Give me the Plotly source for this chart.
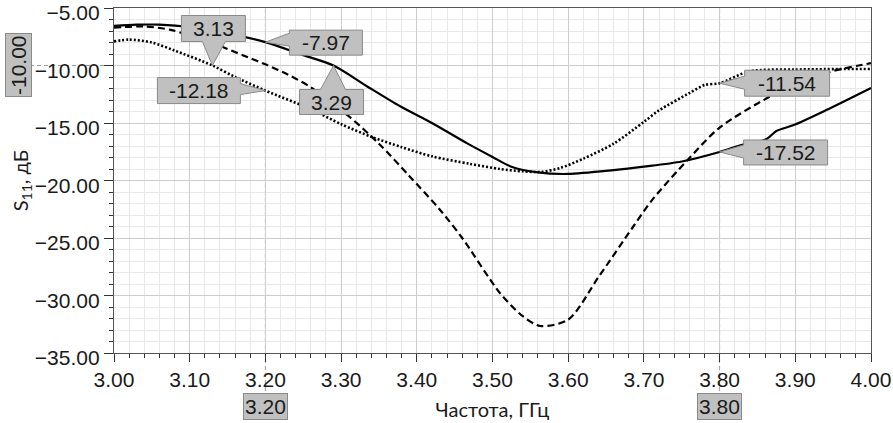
import plotly.graph_objects as go

# ---- data ----
freq_solid = [3.00, 3.03, 3.06, 3.10, 3.15, 3.20, 3.25, 3.29, 3.334, 3.378, 3.42, 3.466,
              3.50, 3.525, 3.56, 3.60, 3.66, 3.70, 3.75, 3.80, 3.83, 3.862, 3.875, 3.897, 3.94, 4.00]
s11_solid = [-6.55, -6.45, -6.45, -6.65, -7.2, -7.97, -9.1, -10.0, -11.8, -13.55, -15.0, -16.75,
             -17.95, -18.8, -19.3, -19.43, -19.1, -18.8, -18.35, -17.52, -16.9, -16.4, -15.7, -15.2, -13.9, -11.95]

freq_dash = [3.00, 3.04, 3.075, 3.10, 3.14, 3.17, 3.20, 3.23, 3.26, 3.31, 3.35, 3.39, 3.43, 3.46,
             3.51, 3.54, 3.563, 3.60, 3.64, 3.686, 3.712, 3.758, 3.80, 3.867, 3.94, 4.00]
s11_dash = [-6.7, -6.6, -6.9, -7.4, -8.3, -9.1, -9.9, -10.8, -11.9, -14.4, -16.8, -19.6, -22.5, -25.0,
            -29.8, -31.8, -32.65, -32.1, -28.4, -24.0, -21.6, -18.2, -15.4, -12.7, -10.66, -9.8]

freq_dot = [3.00, 3.02, 3.05, 3.08, 3.13, 3.16, 3.20, 3.26, 3.30, 3.34, 3.38, 3.42, 3.47, 3.51,
            3.54, 3.565, 3.59, 3.62, 3.66, 3.70, 3.72, 3.76, 3.78, 3.80, 3.84, 3.90, 4.00]
s11_dot = [-7.9, -7.75, -8.0, -8.7, -10.0, -11.0, -12.18, -13.8, -15.1, -16.2, -17.1, -17.9, -18.55, -19.0,
           -19.2, -19.25, -18.9, -18.1, -16.8, -14.9, -13.9, -12.4, -11.7, -11.54, -10.5, -10.35, -10.3]

x_ticks = [3.00, 3.10, 3.20, 3.30, 3.40, 3.50, 3.60, 3.70, 3.80, 3.90, 4.00]
y_ticks = [-35.0, -30.0, -25.0, -20.0, -15.0, -10.0, -5.0]

marker_freqs = [3.20, 3.80]
marker_level = -10.0

callout_x = [3.13, 3.20, 3.20, 3.29, 3.80, 3.80]
callout_y = [-10.0, -7.97, -12.18, -10.0, -11.54, -17.52]
callout_text = ["3.13", "-7.97", "-12.18", "3.29", "-11.54", "-17.52"]

# ---- styling ----
TICK_FONT = dict(family="Liberation Sans, Arial, sans-serif", size=21, color="#1a1a1a")
TITLE_FONT = dict(family="Lato, Carlito, sans-serif", size=20, color="#1a1a1a")
BOX_FILL = "#c0c0c0"
BOX_LINE = "#8a8a8a"
MARK_LINE = "#9a9a9a"

# callout geometry in pixels relative to the pointed-at data point (y up)
callout_geom = [
    dict(x0=-31, x1=33, yb=24, yt=50, side="bottom", a=-10, b=13),
    dict(x0=24, x1=97, yb=-13, yt=12, side="left", a=9, b=-4),
    dict(x0=-108, x1=-25, yb=-13, yt=13, side="right", a=7, b=-4),
    dict(x0=-34, x1=30, yb=-49, yt=-24, side="top", a=-13, b=12),
    dict(x0=25, x1=110, yb=-13, yt=13, side="left", a=7, b=-6),
    dict(x0=24, x1=108, yb=-13, yt=12, side="left", a=7, b=-6),
]


def callout_path(g):
    x0, x1, yb, yt, a, b = g["x0"], g["x1"], g["yb"], g["yt"], g["a"], g["b"]
    s = g["side"]
    if s == "bottom":
        pts = [(0, 0), (a, yb), (x0, yb), (x0, yt), (x1, yt), (x1, yb), (b, yb)]
    elif s == "top":
        pts = [(0, 0), (b, yt), (x1, yt), (x1, yb), (x0, yb), (x0, yt), (a, yt)]
    elif s == "left":
        pts = [(0, 0), (x0, a), (x0, yt), (x1, yt), (x1, yb), (x0, yb), (x0, b)]
    else:
        pts = [(0, 0), (x1, a), (x1, yt), (x0, yt), (x0, yb), (x1, yb), (x1, b)]
    return "M " + " L ".join(f"{px},{py}" for px, py in pts) + " Z"


fig = go.Figure()
fig.add_trace(go.Scatter(x=freq_solid, y=s11_solid, mode="lines",
                         line=dict(color="#000000", width=2.2, shape="spline", smoothing=0.8),
                         showlegend=False, hoverinfo="skip"))
fig.add_trace(go.Scatter(x=freq_dash, y=s11_dash, mode="lines",
                         line=dict(color="#000000", width=2.2, dash="7px,4px", shape="spline", smoothing=0.8),
                         showlegend=False, hoverinfo="skip"))
fig.add_trace(go.Scatter(x=freq_dot, y=s11_dot, mode="lines",
                         line=dict(color="#000000", width=2.6, dash="2px,2px", shape="spline", smoothing=0.8),
                         showlegend=False, hoverinfo="skip"))

shapes = []
annotations = []

# marker lines
for mf in marker_freqs:
    shapes.append(dict(type="line", xref="x", yref="paper", x0=mf, x1=mf, y0=-0.11, y1=1,
                       line=dict(color=MARK_LINE, width=1, dash="4px,3px"), layer="below"))
shapes.append(dict(type="line", xref="paper", yref="y", x0=-0.111, x1=1, y0=marker_level, y1=marker_level,
                   line=dict(color=MARK_LINE, width=1, dash="4px,3px"), layer="below"))

# marker value boxes on the axes
for mf in marker_freqs:
    annotations.append(dict(x=mf, xref="x", y=0, yref="paper", yanchor="middle", yshift=-53,
                            text=f"{mf:.2f}", showarrow=False, font=TICK_FONT,
                            bgcolor=BOX_FILL, bordercolor=BOX_LINE, borderwidth=1, borderpad=1))
annotations.append(dict(x=0, xref="paper", y=marker_level, yref="y", xanchor="center", xshift=-95.5,
                        text=f"{marker_level:.2f}", textangle=-90, showarrow=False, font=TICK_FONT,
                        bgcolor=BOX_FILL, bordercolor=BOX_LINE, borderwidth=1, borderpad=1))

# callouts
for cx, cy, ct, g in zip(callout_x, callout_y, callout_text, callout_geom):
    shapes.append(dict(type="path", xref="x", yref="y", xsizemode="pixel", ysizemode="pixel",
                       xanchor=cx, yanchor=cy, path=callout_path(g),
                       fillcolor=BOX_FILL, line=dict(color=BOX_LINE, width=1), layer="above"))
    annotations.append(dict(x=cx, y=cy, xref="x", yref="y", showarrow=False, text=ct, font=TICK_FONT,
                            xshift=(g["x0"] + g["x1"]) / 2, yshift=(g["yb"] + g["yt"]) / 2))

fig.update_layout(
    width=893, height=423,
    margin=dict(l=114, r=22, t=8, b=70),
    paper_bgcolor="white", plot_bgcolor="white",
    shapes=shapes, annotations=annotations,
    xaxis=dict(range=[3.0, 4.0], tickvals=x_ticks, tickformat=".2f", ticks="outside", ticklen=8,
               tickcolor="#333", tickwidth=1, tickfont=TICK_FONT, automargin=False,
               ticklabeloverflow="allow",
               showline=True, mirror=True, linecolor="#555", linewidth=1.2,
               showgrid=True, gridcolor="#cdcdcd", gridwidth=1, zeroline=False,
               minor=dict(dtick=0.02, tick0=3.0, ticks="outside", ticklen=4, tickcolor="#333",
                          showgrid=True, gridcolor="#e8e8e8", gridwidth=1),
               title=dict(text="Частота, ГГц", font=TITLE_FONT, standoff=12)),
    yaxis=dict(range=[-35.0, -5.0], tickvals=y_ticks, tickformat=".2f", ticks="outside", ticklen=9,
               tickcolor="#333", tickwidth=1, tickfont=TICK_FONT, automargin=False,
               ticklabeloverflow="allow", ticklabelshift=5,
               showline=True, mirror=True, linecolor="#555", linewidth=1.2,
               showgrid=True, gridcolor="#cdcdcd", gridwidth=1, zeroline=False,
               minor=dict(dtick=1.0, tick0=-35.0, ticks="outside", ticklen=4, tickcolor="#333",
                          showgrid=True, gridcolor="#e8e8e8", gridwidth=1),
               title=dict(text="S<sub>11</sub>, дБ", font=TITLE_FONT, standoff=0)),
)

fig.write_html("out.html", config={"displayModeBar": False},
               post_script="document.body.style.margin='0';")
